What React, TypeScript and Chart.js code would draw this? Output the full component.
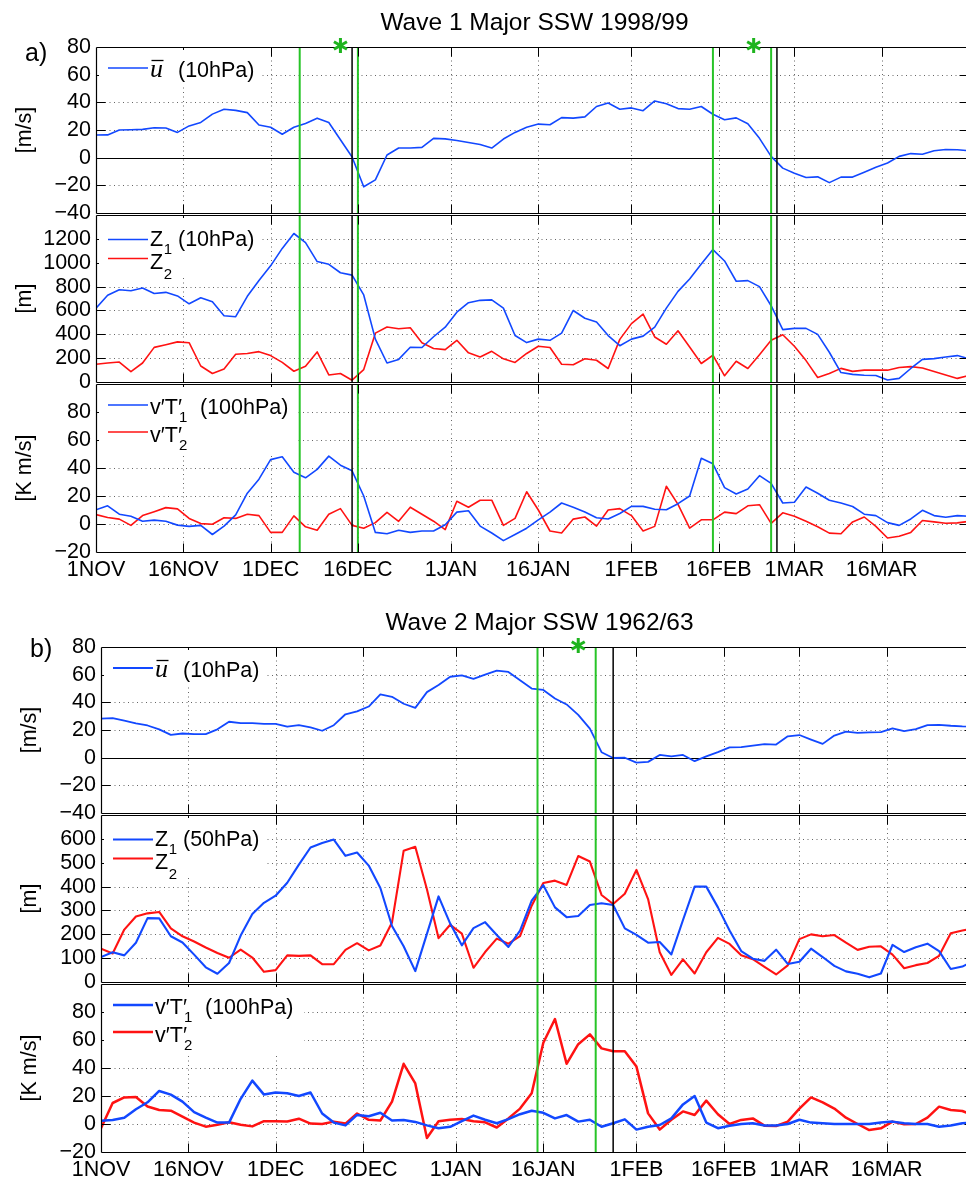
import React, { useEffect, useRef } from 'react';
import { Chart, registerables } from 'chart.js';

Chart.register(...registerables);

// ---------------- data ----------------
// one value every DAY_STEP days, starting 1 NOV (day 0) up to 31 MAR (day 150)
const DAY_STEP = 2;
const X_MAX = 150;
const TICK_DAYS = [0, 15, 30, 45, 61, 76, 92, 107, 120, 135];
const TICK_LABELS = ['1NOV', '16NOV', '1DEC', '16DEC', '1JAN', '16JAN', '1FEB', '16FEB', '1MAR', '16MAR'];

// a) Wave 1 Major SSW 1998/99
const A_U = [
  16.4, 16.5, 20, 20.2, 20.5, 21.7, 21.5, 18.3, 23, 25.5,
  31.5, 35, 34.2, 32.6, 23.6, 22, 17, 22, 24.8, 28.6,
  25.5, 13, 0.5, -21, -16, 2, 7, 7, 7.5, 14,
  13.6, 12.5, 11, 9.5, 7, 13.5, 18.3, 22, 24.3, 23.8,
  29, 28.6, 29.5, 37, 39.5, 35, 36, 34, 41, 39,
  35.5, 35, 37, 31.4, 27.4, 28.8, 24.5, 14, 1, -7.5,
  -11.2, -14.3, -13.8, -18, -14, -14, -10.5, -6.8, -3.8, 1,
  3, 2.5, 5, 6, 5.8, 5,
];
const A_Z1 = [
  620, 727, 774, 766, 788, 742, 752, 722, 656, 707,
  673, 556, 548, 719, 851, 974, 1120, 1245, 1168, 1010,
  987, 916, 896, 730, 360, 160, 190, 292, 290, 380,
  460, 586, 665, 685, 689, 620, 390, 331, 360, 350,
  410, 600, 535, 503, 390, 305, 360, 385, 460, 620,
  760, 864, 990, 1110, 1015, 845, 850, 800, 640, 440,
  450, 450, 400, 250, 80, 65, 58, 55, 17, 31,
  114, 190, 197, 210, 222, 195,
];
const A_Z2 = [
  150, 160, 168, 88, 160, 291, 313, 337, 330, 135,
  72, 110, 233, 240, 255, 222, 165, 91, 133, 253,
  60, 72, 16, 105, 410, 461, 447, 455, 330, 282,
  272, 350, 245, 210, 258, 195, 165, 240, 300, 290,
  150, 145, 195, 183, 114, 358, 490, 570, 378, 317,
  430, 294, 156, 225, 53, 175, 114, 230, 350, 397,
  300, 180, 39, 72, 115, 90, 100, 100, 100, 122,
  130, 118, 88, 60, 31, 55,
];
const A_VT1 = [
  10.2, 13, 7, 5.5, 2, 2.8, 2, -0.8, -1.7, -1,
  -7.5, -1.5, 6.5, 22, 32, 46, 48, 37, 33, 39,
  48.5, 42, 38, 20, -6, -7, -4.5, -6, -5, -5,
  -0.5, 8.5, 9.5, -1.5, -6.4, -11.9, -7.5, -3, 3, 8.5,
  15, 12, 8.6, 4.5, 3.6, 7.5, 12.6, 12.6, 10.5, 10.2,
  14.5, 20, 47, 43, 26, 21.4, 25, 34.5, 29, 15,
  15.5, 26.4, 22, 17, 15, 12.5, 7, 6, 1, -1,
  3.6, 9.8, 6, 4.8, 6, 5.5,
];
const A_VT2 = [
  6.7, 4.6, 3.5, -1, 6, 8.8, 11.7, 10.8, 4, 0.3,
  -0.2, 4.5, 4, 7, 6, -6, -6, 5.8, -2, -4.5,
  7, 11, -1, -3, 1, 8.3, 1.9, 12, 7, 2,
  -4, 16.2, 12, 17, 17, -1, 4, 23, 10, -5,
  -6.4, 3.5, 5, -1.5, 10, 11, 6, -5, -1.7, 27,
  14, -2.9, 3, 3, 8.5, 7.4, 13, 13.8, 0.5, 8,
  5.5, 2, -2, -6.5, -7, 1.5, 5, -1.7, -10, -8.8,
  -6, 2.5, 1.5, 0.5, 0.8, 1.9,
];

// b) Wave 2 Major SSW 1962/63
const B_U = [
  28.3, 28.6, 26.8, 24.8, 23.3, 20.5, 16.5, 17.5, 17, 17,
  20.5, 26, 25, 25, 24.5, 24.5, 22.4, 23.5, 22, 19.5,
  23.5, 31.4, 33.5, 37, 45.7, 44, 39, 36, 47.4, 52.5,
  58.5, 59.5, 57, 60, 63, 62, 56, 50, 49, 42.8,
  38.5, 31, 21, 4, -0.2, 0, -3.5, -3, 2, 1,
  2, -2.5, 1, 4, 7.5, 7.6, 8.8, 9.8, 9.5, 15.5,
  16.4, 13.1, 10, 16, 18.8, 17.9, 18.3, 18.5, 21.2, 19.3,
  20.7, 23.6, 23.8, 23.1, 22.6, 22.5,
];
const B_Z1 = [
  105, 125, 112, 165, 268, 267, 192, 166, 115, 62,
  35, 80, 195, 285, 332, 362, 416, 492, 564, 583,
  597, 529, 543, 488, 394, 235, 150, 46, 202, 359,
  245, 154, 226, 251, 197, 147, 216, 341, 406, 313,
  272, 277, 323, 330, 323, 225, 198, 165, 168, 116,
  260, 400, 400, 313, 216, 130, 98, 89, 136, 76,
  85, 140, 105, 68, 45, 35, 20, 36, 156, 126,
  146, 161, 130, 55, 65, 90,
];
const B_Z2 = [
  140, 120, 220, 275, 288, 294, 225, 192, 170, 145,
  122, 102, 136, 103, 43, 50, 112, 110, 112, 75,
  75, 135, 163, 133, 153, 250, 550, 567, 389, 184,
  240, 203, 60, 126, 182, 161, 193, 320, 415, 425,
  407, 528, 505, 365, 327, 370, 470, 348, 125, 30,
  95, 36, 125, 185, 160, 112, 96, 64, 32, 70,
  180, 200, 192, 197, 165, 135, 148, 150, 115, 58,
  71, 80, 110, 205, 216, 225,
];
const B_VT1 = [
  2.4, 2.9, 4.5, 10.5, 15.5, 23.6, 21, 16, 8.5, 4.6,
  1, 1, 18, 31, 21, 22.5, 22, 20, 22.5, 7.5,
  1, -1, 6.5, 5.5, 8, 2.5, 2.9, 1.5, -1, -3,
  -2, 2, 6, 3, 0.5, 3.5, 7, 9.5, 8, 4,
  6.4, 1.7, 3, -2, 0.5, 3.3, -4, -2, -0.7, 4,
  14, 20, 1, -3, -1.2, 0, 0.5, -1, -1, 0,
  3, 1, 0.5, 0, 0, 0, 0, 1, 1.7, 0.5,
  0, 0, -1.9, -1, 0.5, 1,
];
const B_VT2 = [
  -3, 15, 19, 19.3, 12.5, 10, 9.5, 5.2, 1, -1.9,
  -0.5, 1.3, -0.6, -1.7, 2, 2, 1.8, 3.8, 0.3, 0,
  1.7, 0.3, 7.5, 3, 2.5, 16, 43, 29, -10, 2,
  3, 3.5, 2, 1.2, -2.5, 4, 11, 22, 58, 75,
  43, 57, 64, 54, 52, 52, 41, 7.6, -4, 3,
  9, 6.4, 16.7, 7, 0, 2.9, 4, -1.2, -1.4, 1.7,
  11, 19, 15.5, 11, 4.5, 0, -4.3, -3.1, 1.7, -0.2,
  0, 4.5, 12.4, 10, 9.3, 6,
];

// event markers (days since 1 NOV)
const A_GREEN_DAYS = [35, 45, 106, 116];
const A_BLACK_DAYS = [44, 117];
const A_STAR_DAYS = [42, 113];
const B_GREEN_DAYS = [75, 85];
const B_BLACK_DAYS = [88];
const B_STAR_DAYS = [82];

const TITLE_A = 'Wave 1 Major SSW 1998/99';
const TITLE_B = 'Wave 2 Major SSW 1962/63';

// ---------------- styles ----------------
const FONT = "'Liberation Sans', Arial, Helvetica, sans-serif";
const SERIF = "'Liberation Serif', 'DejaVu Serif', serif";
const BLUE = 'rgb(18,72,255)';
const RED = 'rgb(255,18,18)';
const GREEN = 'rgb(40,196,40)';
const STAR_GREEN = 'rgb(30,180,30)';
const GRID_COLOR = 'rgba(0,0,0,0.6)';
const CANVAS_W = 980;
const X_AXIS_H = 40;
const TICK_LEN = 9;
const TICK_FONT_SIZE = 21.5;

type Group = {
  title: string; letter: string; letterDy: number;
  green: number[]; black: number[]; stars: number[];
  plotLeft: number; plotRight: number;
};
type Series = { values: number[]; color: string };
type Legend = { kind: 'u' | 'Z' | 'vT'; suffix: string; boxW: number; boxH: number };
type Panel = {
  group: Group; canvasTop: number; canvasH: number; padTop: number; padBottom: number;
  showX: boolean; first: boolean;
  yMin: number; yMax: number; yStep: number; hideTop: boolean; zeroLine: boolean;
  yTitle: string; lineWidth: number; series: Series[]; legend: Legend;
};

const GROUP_A: Group = {
  title: TITLE_A, letter: 'a)', letterDy: 14,
  green: A_GREEN_DAYS, black: A_BLACK_DAYS, stars: A_STAR_DAYS,
  plotLeft: 96, plotRight: 969,
};
const GROUP_B: Group = {
  title: TITLE_B, letter: 'b)', letterDy: 10,
  green: B_GREEN_DAYS, black: B_BLACK_DAYS, stars: B_STAR_DAYS,
  plotLeft: 101, plotRight: 974,
};

const PANELS: Panel[] = [
  {
    group: GROUP_A, canvasTop: 0, canvasH: 231, padTop: 47, padBottom: 16, showX: false, first: true,
    yMin: -40, yMax: 80, yStep: 20, hideTop: false, zeroLine: true, yTitle: '[m/s]', lineWidth: 1.6,
    series: [{ values: A_U, color: BLUE }],
    legend: { kind: 'u', suffix: '(10hPa)', boxW: 160, boxH: 36 },
  },
  {
    group: GROUP_A, canvasTop: 195, canvasH: 205, padTop: 20, padBottom: 16, showX: false, first: false,
    yMin: 0, yMax: 1400, yStep: 200, hideTop: true, zeroLine: false, yTitle: '[m]', lineWidth: 1.6,
    series: [{ values: A_Z1, color: BLUE }, { values: A_Z2, color: RED }],
    legend: { kind: 'Z', suffix: '(10hPa)', boxW: 160, boxH: 58 },
  },
  {
    group: GROUP_A, canvasTop: 364, canvasH: 228, padTop: 20, padBottom: 0, showX: true, first: false,
    yMin: -20, yMax: 100, yStep: 20, hideTop: true, zeroLine: false, yTitle: '[K m/s]', lineWidth: 1.6,
    series: [{ values: A_VT1, color: BLUE }, { values: A_VT2, color: RED }],
    legend: { kind: 'vT', suffix: '(100hPa)', boxW: 196, boxH: 68 },
  },
  {
    group: GROUP_B, canvasTop: 590, canvasH: 241, padTop: 57, padBottom: 16, showX: false, first: true,
    yMin: -40, yMax: 80, yStep: 20, hideTop: false, zeroLine: true, yTitle: '[m/s]', lineWidth: 1.8,
    series: [{ values: B_U, color: BLUE }],
    legend: { kind: 'u', suffix: '(10hPa)', boxW: 160, boxH: 36 },
  },
  {
    group: GROUP_B, canvasTop: 795, canvasH: 205, padTop: 20, padBottom: 16, showX: false, first: false,
    yMin: 0, yMax: 700, yStep: 100, hideTop: true, zeroLine: false, yTitle: '[m]', lineWidth: 2.1,
    series: [{ values: B_Z1, color: BLUE }, { values: B_Z2, color: RED }],
    legend: { kind: 'Z', suffix: '(50hPa)', boxW: 160, boxH: 58 },
  },
  {
    group: GROUP_B, canvasTop: 964, canvasH: 228, padTop: 20, padBottom: 0, showX: true, first: false,
    yMin: -20, yMax: 100, yStep: 20, hideTop: true, zeroLine: false, yTitle: '[K m/s]', lineWidth: 2.5,
    series: [{ values: B_VT1, color: BLUE }, { values: B_VT2, color: RED }],
    legend: { kind: 'vT', suffix: '(100hPa)', boxW: 200, boxH: 68 },
  },
];

function fmtY(v: number): string {
  return v < 0 ? '\u2212' + String(Math.abs(v)) : String(v);
}

function drawStar(ctx: CanvasRenderingContext2D, x: number, y: number, r: number) {
  ctx.beginPath();
  for (let k = 0; k < 3; k++) {
    const ang = Math.PI / 2 + (k * Math.PI) / 3;
    const dx = r * Math.cos(ang), dy = r * Math.sin(ang);
    ctx.moveTo(x + dx, y + dy);
    ctx.lineTo(x - dx, y - dy);
  }
  ctx.stroke();
}

function drawLegend(ctx: CanvasRenderingContext2D, a: any, p: Panel) {
  const L = a.left, T = a.top, lg = p.legend;
  ctx.save();
  ctx.fillStyle = '#fff';
  ctx.fillRect(L + 3, T + 3, lg.boxW, lg.boxH);
  const sample = (y: number, color: string) => {
    ctx.strokeStyle = color;
    ctx.lineWidth = p.lineWidth;
    ctx.beginPath();
    ctx.moveTo(L + 12, y);
    ctx.lineTo(L + 52, y);
    ctx.stroke();
  };
  ctx.fillStyle = '#000';
  ctx.textAlign = 'left';
  ctx.textBaseline = 'alphabetic';
  const MAIN = `${TICK_FONT_SIZE}px ${FONT}`;
  const SUB = `15px ${FONT}`;
  if (lg.kind === 'u') {
    sample(T + 21, p.series[0].color);
    ctx.font = `italic 26px ${SERIF}`;
    ctx.fillText('u', L + 54, T + 30);
    ctx.strokeStyle = '#000';
    ctx.lineWidth = 1.3;
    ctx.beginPath();
    ctx.moveTo(L + 55.5, T + 13.5);
    ctx.lineTo(L + 67.5, T + 13.5);
    ctx.stroke();
    ctx.font = MAIN;
    ctx.fillText(lg.suffix, L + 82, T + 30);
  } else if (lg.kind === 'Z') {
    const rows = [
      { s: T + 24.5, b: T + 30.5, sb: T + 38.5 },
      { s: T + 43.5, b: T + 53.5, sb: T + 63.5 },
    ];
    rows.forEach((r, i) => {
      sample(r.s, p.series[i].color);
      ctx.font = MAIN;
      ctx.fillText('Z', L + 54, r.b);
      const w = ctx.measureText('Z').width;
      ctx.font = SUB;
      ctx.fillText(String(i + 1), L + 54 + w + 0.5, r.sb);
    });
    ctx.font = MAIN;
    ctx.fillText(lg.suffix, L + 82, T + 30.5);
  } else {
    const rows = [
      { s: T + 21, b: T + 29.5, sb: T + 37.5 },
      { s: T + 48, b: T + 57.5, sb: T + 66 },
    ];
    rows.forEach((r, i) => {
      sample(r.s, p.series[i].color);
      ctx.font = MAIN;
      ctx.fillText('v\u2032T\u2032', L + 54, r.b);
      const w = ctx.measureText('v\u2032T').width;
      ctx.font = SUB;
      ctx.fillText(String(i + 1), L + 54 + w + 1, r.sb);
    });
    ctx.font = MAIN;
    ctx.fillText(lg.suffix, L + 104, T + 29.5);
  }
  ctx.restore();
}

function buildChart(canvas: HTMLCanvasElement, p: Panel, idx: number) {
  const g = p.group;
  const decor = {
    id: 'decor' + idx,
    beforeDatasetsDraw(chart: any) {
      const ctx: CanvasRenderingContext2D = chart.ctx;
      const a = chart.chartArea;
      const xs = chart.scales.x, ys = chart.scales.y;
      ctx.save();
      ctx.strokeStyle = GRID_COLOR;
      ctx.lineWidth = 1;
      ctx.setLineDash([1, 3.5]);
      ctx.beginPath();
      TICK_DAYS.forEach((d) => {
        const x = Math.round(xs.getPixelForValue(d)) + 0.5;
        if (x > a.left + 2 && x < a.right - 2) {
          ctx.moveTo(x, a.top);
          ctx.lineTo(x, a.bottom);
        }
      });
      ys.ticks.forEach((t: any) => {
        if (p.zeroLine && t.value === 0) return;
        const y = Math.round(ys.getPixelForValue(t.value)) + 0.5;
        if (y > a.top + 2 && y < a.bottom - 2) {
          ctx.moveTo(a.left, y);
          ctx.lineTo(a.right, y);
        }
      });
      ctx.stroke();
      ctx.setLineDash([]);
      if (p.zeroLine) {
        const y = Math.round(ys.getPixelForValue(0)) + 0.5;
        ctx.strokeStyle = '#000';
        ctx.lineWidth = 1.1;
        ctx.beginPath();
        ctx.moveTo(a.left, y);
        ctx.lineTo(a.right, y);
        ctx.stroke();
      }
      ctx.restore();
    },
    afterDatasetsDraw(chart: any) {
      const ctx: CanvasRenderingContext2D = chart.ctx;
      const a = chart.chartArea;
      const xs = chart.scales.x, ys = chart.scales.y;
      ctx.save();
      const vline = (d: number) => {
        const x = xs.getPixelForValue(d);
        ctx.beginPath();
        ctx.moveTo(x, a.top);
        ctx.lineTo(x, a.bottom);
        ctx.stroke();
      };
      ctx.strokeStyle = GREEN;
      ctx.lineWidth = 2;
      g.green.forEach(vline);
      ctx.strokeStyle = '#000';
      ctx.lineWidth = 1.5;
      g.black.forEach(vline);

      // frame (crisp, so shared borders of stacked panels stay thin)
      const fl = Math.round(a.left) + 0.5, fr = Math.round(a.right) - 0.5;
      const ft = Math.round(a.top) + 0.5, fb = Math.round(a.bottom) + 0.5;
      ctx.strokeStyle = '#000';
      ctx.lineWidth = 1.2;
      ctx.beginPath();
      ctx.moveTo(fl, ft); ctx.lineTo(fr, ft);
      ctx.moveTo(fl, fb); ctx.lineTo(fr, fb);
      ctx.moveTo(fl, ft); ctx.lineTo(fl, fb);
      ctx.moveTo(fr, ft); ctx.lineTo(fr, fb);
      ctx.stroke();
      // inner tick marks
      ctx.lineWidth = 1;
      ctx.beginPath();
      TICK_DAYS.forEach((d) => {
        const x = Math.round(xs.getPixelForValue(d)) + 0.5;
        if (x > a.left + 2 && x < a.right - 2) {
          ctx.moveTo(x, ft);
          ctx.lineTo(x, ft + TICK_LEN);
          ctx.moveTo(x, fb);
          ctx.lineTo(x, fb - TICK_LEN);
        }
      });
      ys.ticks.forEach((t: any) => {
        const y = Math.round(ys.getPixelForValue(t.value)) + 0.5;
        if (y > a.top + 2 && y < a.bottom - 2) {
          ctx.moveTo(fl, y);
          ctx.lineTo(fl + TICK_LEN, y);
          ctx.moveTo(fr, y);
          ctx.lineTo(fr - TICK_LEN, y);
        }
      });
      ctx.stroke();

      if (p.first) {
        ctx.strokeStyle = STAR_GREEN;
        ctx.lineWidth = 3;
        g.stars.forEach((d) => drawStar(ctx, xs.getPixelForValue(d), a.top - 1.5, 7.5));
      }

      drawLegend(ctx, a, p);

      // y axis title
      ctx.fillStyle = '#000';
      ctx.font = `${TICK_FONT_SIZE}px ${FONT}`;
      ctx.save();
      ctx.translate(a.left - 71, (a.top + a.bottom) / 2);
      ctx.rotate(-Math.PI / 2);
      ctx.textAlign = 'center';
      ctx.textBaseline = 'middle';
      ctx.fillText(p.yTitle, 0, 0);
      ctx.restore();

      if (p.first) {
        ctx.textAlign = 'center';
        ctx.textBaseline = 'alphabetic';
        ctx.font = `24.5px ${FONT}`;
        ctx.fillText(g.title, (a.left + a.right) / 2 + 2, a.top - 17);
        ctx.textAlign = 'left';
        ctx.font = `25px ${FONT}`;
        ctx.fillText(g.letter, a.left - 71, a.top + g.letterDy);
      }
      ctx.restore();
    },
  };

  const tickFont = { family: FONT, size: TICK_FONT_SIZE };
  return new Chart(canvas, {
    type: 'line',
    data: {
      datasets: p.series.map((s) => ({
        data: s.values.map((v, i) => ({ x: i * DAY_STEP, y: v })),
        borderColor: s.color,
        borderWidth: p.lineWidth,
        borderJoinStyle: 'round' as const,
        pointRadius: 0,
        fill: false,
        tension: 0,
      })),
    },
    options: {
      responsive: false,
      maintainAspectRatio: false,
      animation: false,
      devicePixelRatio: 1,
      events: [],
      layout: { padding: { top: p.padTop, bottom: p.padBottom, left: 0, right: CANVAS_W - g.plotRight } },
      plugins: { legend: { display: false }, tooltip: { enabled: false } },
      scales: {
        x: {
          type: 'linear',
          min: 0,
          max: X_MAX,
          display: p.showX,
          grid: { display: false, drawTicks: false },
          border: { display: false },
          afterBuildTicks: (s: any) => {
            s.ticks = TICK_DAYS.map((v) => ({ value: v }));
          },
          afterFit: (s: any) => {
            s.height = p.showX ? X_AXIS_H : 0;
          },
          ticks: {
            autoSkip: false,
            maxRotation: 0,
            minRotation: 0,
            padding: 5,
            color: '#000',
            font: tickFont,
            callback: (v: any) => {
              const k = TICK_DAYS.indexOf(Number(v));
              return k >= 0 ? TICK_LABELS[k] : '';
            },
          },
        },
        y: {
          type: 'linear',
          min: p.yMin,
          max: p.yMax,
          grid: { display: false, drawTicks: false },
          border: { display: false },
          afterFit: (s: any) => {
            s.width = g.plotLeft;
          },
          ticks: {
            stepSize: p.yStep,
            autoSkip: false,
            padding: 5,
            color: '#000',
            font: tickFont,
            callback: (v: any) => {
              const n = Number(v);
              if (p.hideTop && n === p.yMax) return '';
              return fmtY(n);
            },
          },
        },
      },
    } as any,
    plugins: [decor],
  });
}

function PanelChart({ p, idx }: { p: Panel; idx: number }) {
  const ref = useRef<HTMLCanvasElement>(null);
  useEffect(() => {
    const chart = buildChart(ref.current as HTMLCanvasElement, p, idx);
    return () => chart.destroy();
  }, []);
  return (
    <canvas
      ref={ref}
      width={CANVAS_W}
      height={p.canvasH}
      style={{ position: 'absolute', left: 0, top: p.canvasTop, width: CANVAS_W, height: p.canvasH }}
    />
  );
}

export default function App() {
  return (
    <div
      style={{
        position: 'absolute',
        left: 0,
        top: 0,
        width: 966,
        height: 1182,
        overflow: 'hidden',
        background: '#fff',
      }}
    >
      {PANELS.map((p, i) => (
        <PanelChart key={i} p={p} idx={i} />
      ))}
    </div>
  );
}
